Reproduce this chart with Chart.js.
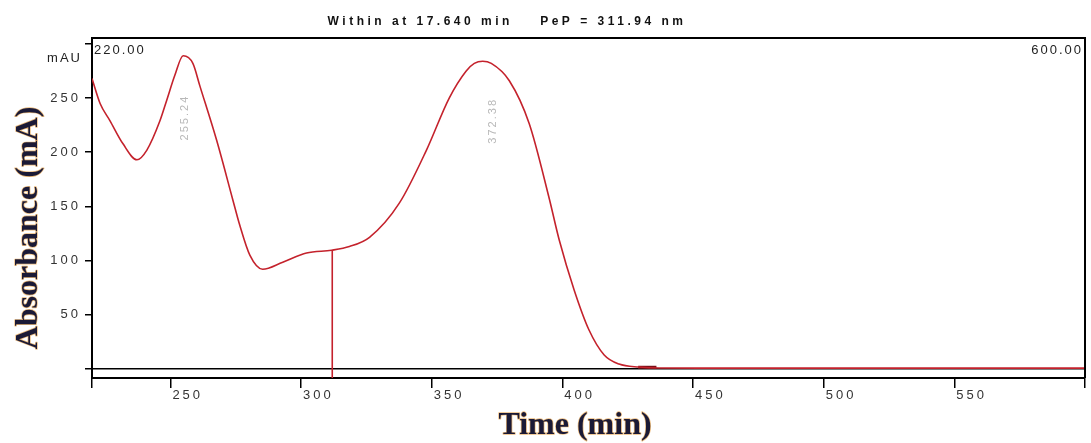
<!DOCTYPE html>
<html><head><meta charset="utf-8">
<script src="https://cdn.jsdelivr.net/npm/chart.js@4/dist/chart.umd.min.js"></script>
<style>html,body{margin:0;padding:0;background:#fff}#wrap{width:1091px;height:443px}</style>
</head><body><div id="wrap"><canvas id="c" width="1091" height="443"></canvas></div>
<script>
// Wavelength (nm, shown on "Time (min)" axis) and absorbance (mAU)
const wavelengths = [220, 223.1, 226.9, 231.8, 237.2, 241.0, 246.0, 248.6, 251.7, 254.9, 258.6, 261.3, 267.7, 273.9, 276.5, 280.4, 285.3, 293.0, 302.1, 311.7, 318.5, 326.2, 337.6, 348.0, 356.7, 363.2, 366.3, 369.5, 372.8, 379.7, 387.3, 394.9, 398.8, 404.5, 410.2, 416.0, 421.7, 429.3, 437.0, 460, 500, 550, 600];
const absorbance  = [268, 245, 229, 208, 193, 202, 229, 248, 271, 289, 282, 261, 211, 156, 133, 105, 92, 98.5, 107, 109.6, 113, 121.5, 153, 202, 250, 275, 282, 284, 282, 266, 226.5, 158, 119, 73, 36, 13, 4.6, 1.8, 0.9, 0.8, 0.8, 0.8, 0.8];
const markerX = [311.94, 311.94];
const markerY = [-8.3, 109.6];
const baseMarkX = [429, 436];
const baseMarkY = [1.6, 1.6];
const xTicks = [220, 250, 300, 350, 400, 450, 500, 550, 600];
const xTickLabels = [250, 300, 350, 400, 450, 500, 550];
const yTicks = [0, 50, 100, 150, 200, 250, 300];
const yTickLabels = [50, 100, 150, 200, 250];
const peakLabels = ['255.24', '372.38'];
const peakLabelX = [255.5, 373.3];
const peakLabelY = [232, 229];
const titleText = 'Within at 17.640 min    PeP = 311.94 nm';
const xTitle = 'Time (min)';
const yTitle = 'Absorbance (mA)';

const red = '#c4222c';
const toXY = (xs, ys) => xs.map((x, i) => ({x: x, y: ys[i]}));

const decor = {
  id: 'decor',
  beforeDraw(chart) { chart.ctx.letterSpacing = '3px'; },
  afterDraw(chart) {
    const ctx = chart.ctx, a = chart.chartArea, xs = chart.scales.x, ys = chart.scales.y;
    ctx.save();
    // top and right frame
    ctx.strokeStyle = '#000'; ctx.lineWidth = 2;
    ctx.beginPath(); ctx.moveTo(a.left, a.top); ctx.lineTo(a.right, a.top); ctx.lineTo(a.right, a.bottom); ctx.stroke();
    // title
    ctx.letterSpacing = '3.5px';
    ctx.fillStyle = '#111'; ctx.font = 'bold 12px "Liberation Sans", Arial, sans-serif';
    ctx.textAlign = 'center'; ctx.textBaseline = 'middle';
    ctx.fillText(titleText, 507, 22);
    // corner range labels
    ctx.letterSpacing = '2px';
    ctx.fillStyle = '#222'; ctx.font = '13px "Liberation Sans", Arial, sans-serif'; ctx.textBaseline = 'middle';
    ctx.textAlign = 'left'; ctx.fillText(xs.min.toFixed(2), a.left + 2, 50);
    ctx.textAlign = 'right'; ctx.fillText(xs.max.toFixed(2), a.right - 2, 50);
    ctx.textAlign = 'right'; ctx.fillText('mAU', 82, 58);
    // peak labels
    ctx.fillStyle = '#b8b8b8'; ctx.font = '11px "Liberation Sans", Arial, sans-serif';
    peakLabels.forEach((t, i) => {
      ctx.save();
      ctx.translate(xs.getPixelForValue(peakLabelX[i]), ys.getPixelForValue(peakLabelY[i]));
      ctx.rotate(-Math.PI / 2);
      ctx.textAlign = 'center'; ctx.textBaseline = 'middle';
      ctx.fillText(t, 0, 0);
      ctx.restore();
    });
    // axis titles
    ctx.letterSpacing = '0px';
    ctx.font = 'bold 32px "Liberation Serif", "Times New Roman", serif';
    ctx.lineJoin = 'round';
    const drawT = (t, x, y, rot) => {
      ctx.save(); ctx.translate(x, y); ctx.rotate(rot);
      ctx.textAlign = 'center'; ctx.textBaseline = 'alphabetic';
      ctx.strokeStyle = 'rgba(230,160,70,0.7)'; ctx.lineWidth = 1.4; ctx.strokeText(t, 0, 0);
      ctx.fillStyle = '#1b1a36'; ctx.fillText(t, 0, 0);
      ctx.restore();
    };
    drawT(xTitle, 575, 434, 0);
    drawT(yTitle, 37, 228, -Math.PI / 2);
    ctx.restore();
  }
};

new Chart(document.getElementById('c'), {
  type: 'line',
  data: {
    datasets: [
      {data: toXY(wavelengths, absorbance), borderColor: red, borderWidth: 1.6, pointRadius: 0, tension: 0.4, cubicInterpolationMode: 'monotone', fill: false},
      {data: toXY(markerX, markerY), borderColor: red, borderWidth: 1.6, pointRadius: 0, tension: 0},
      {data: toXY(baseMarkX, baseMarkY), borderColor: '#7a1018', borderWidth: 3, pointRadius: 0, tension: 0}
    ]
  },
  options: {
    responsive: false, animation: false, devicePixelRatio: 1,
    layout: {padding: {left: 0, right: 6, top: 38, bottom: 0}},
    plugins: {legend: {display: false}, tooltip: {enabled: false}, title: {display: false}},
    scales: {
      x: {
        type: 'linear', min: 220, max: 600,
        afterBuildTicks: s => { s.ticks = xTicks.map(v => ({value: v})); },
        afterFit: s => { s.height = 65; },
        ticks: {autoSkip: false, maxRotation: 0, align: 'start', labelOffset: 2, padding: 0, color: '#333',
                font: {family: '"Liberation Sans", Arial, sans-serif', size: 13},
                callback: v => xTickLabels.includes(v) ? String(v) : ''},
        grid: {drawOnChartArea: false, tickLength: 10, color: '#000', lineWidth: 1.5},
        border: {color: '#000', width: 2}
      },
      y: {
        type: 'linear', min: -8.3, max: 305.4,
        afterBuildTicks: s => { s.ticks = yTicks.map(v => ({value: v})); },
        afterFit: s => { s.width = 92; },
        ticks: {autoSkip: false, padding: 4, color: '#333',
                font: {family: '"Liberation Sans", Arial, sans-serif', size: 13},
                callback: v => yTickLabels.includes(v) ? String(v) : ''},
        grid: {drawOnChartArea: true, tickLength: 7, lineWidth: 1.5, tickColor: '#000',
               color: c => (c.tick && c.tick.value === 0) ? '#000' : 'rgba(0,0,0,0)'},
        border: {color: '#000', width: 2}
      }
    }
  },
  plugins: [decor]
});
</script></body></html>
